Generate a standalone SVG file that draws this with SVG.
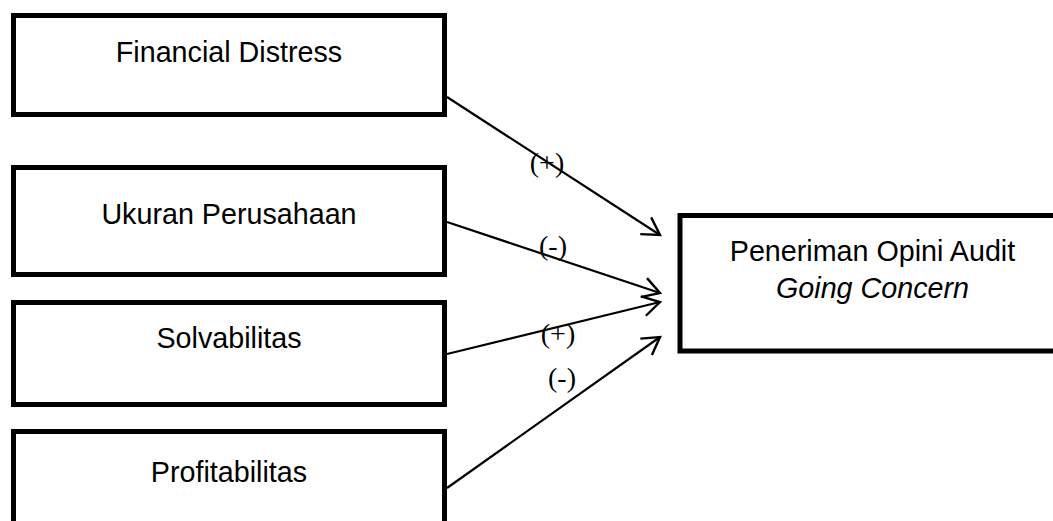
<svg xmlns="http://www.w3.org/2000/svg" width="1053" height="521" viewBox="0 0 1053 521">
<style>
.box{fill:#fff;stroke:#000;stroke-width:5}
.t{font-family:"Liberation Sans",Arial,sans-serif;font-size:28.7px;fill:#000;text-anchor:middle}
.lbl{font-family:"Liberation Serif","Times New Roman",serif;font-size:28px;fill:#000;text-anchor:middle}
.c{stroke:#000;stroke-width:2.2;fill:none;marker-end:url(#ah)}
</style>
<defs>
<marker id="ah" markerUnits="userSpaceOnUse" viewBox="-20 -12 22 24" markerWidth="22" markerHeight="24" refX="0" refY="0" orient="auto" overflow="visible">
<path d="M-17,-10 L0,0 L-17,10" fill="none" stroke="#000" stroke-width="2.4"/>
</marker>
</defs>
<rect width="1053" height="521" fill="#fff"/>
<g id="financial-distress">
<rect class="box" x="13.5" y="15.5" width="431" height="99"/>
<text class="t" x="229" y="62">Financial Distress</text>
</g>
<g id="ukuran-perusahaan">
<rect class="box" x="13.5" y="167.5" width="431" height="107"/>
<text class="t" x="229" y="224">Ukuran Perusahaan</text>
</g>
<g id="solvabilitas">
<rect class="box" x="13.5" y="302.5" width="431" height="102"/>
<text class="t" x="229" y="348">Solvabilitas</text>
</g>
<g id="profitabilitas">
<rect class="box" x="13.5" y="431.5" width="431" height="100"/>
<text class="t" x="229" y="482">Profitabilitas</text>
</g>
<g id="opini-audit">
<rect class="box" x="680" y="215.5" width="390" height="135.5"/>
<text class="t" x="872.5" y="261">Peneriman Opini Audit</text>
<text class="t" x="872.5" y="298" font-style="italic">Going Concern</text>
</g>
<g id="connectors">
<line class="c" x1="447" y1="97" x2="660" y2="235"/>
<line class="c" x1="447" y1="222" x2="660" y2="293"/>
<line class="c" x1="447" y1="354" x2="660" y2="302"/>
<line class="c" x1="447" y1="488" x2="660" y2="337"/>
<text class="lbl" x="547" y="172">(+)</text>
<text class="lbl" x="553" y="255">(-)</text>
<text class="lbl" x="558" y="343">(+)</text>
<text class="lbl" x="562" y="387">(-)</text>
</g>
</svg>
